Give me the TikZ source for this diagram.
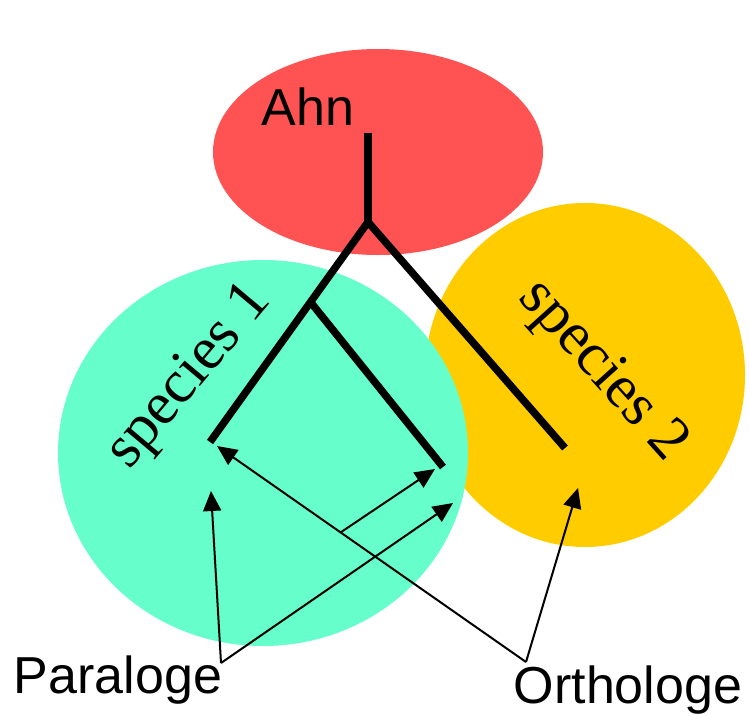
\documentclass[tikz,border=0pt]{standalone}
\usepackage{fontspec}
\setmainfont{Liberation Sans}
\newfontfamily\speciesfont{Liberation Serif}
\usetikzlibrary{
  shapes.geometric,
  arrows.meta,
  calc
}
\definecolor{ancred}{HTML}{FF5353}
\definecolor{spgreen}{HTML}{66FFCC}
\definecolor{spyellow}{HTML}{FFCC00}

\begin{document}
\begin{tikzpicture}[
    x=1pt, y=-1pt,
    blob/.style={ellipse, inner sep=0pt, draw=none},
    bigtext/.style={font=\fontsize{52pt}{60pt}\selectfont, inner sep=0pt, anchor=base},
    sptext/.style={font=\speciesfont\fontsize{61pt}{68pt}\selectfont, inner sep=0pt, anchor=base},
    branch/.style={line width=7.5pt, line cap=butt, line join=miter},
    pointer/.style={-{Triangle[length=20pt, width=18pt]}, line width=2pt},
  ]
  \useasboundingbox (0,0) rectangle (749,715);

  % --- Areas ---
  \node[blob, fill=ancred, minimum width=330pt, minimum height=206pt] (anc) at (378,152) {};
  \node[blob, fill=spyellow, minimum width=320pt, minimum height=344pt] (sp2) at (585,375) {};
  \node[blob, fill=spgreen, minimum width=410pt, minimum height=386pt] (sp1) at (263,453) {};

  % --- Labels ---
  \node[bigtext] (ahn) at (308,125) {Ahn};
  \node[sptext, rotate=50] (sp1label) at (201,386) {species 1};
  \node[sptext, rotate=-48] (sp2label) at (592,381) {species 2};
  \node[bigtext] (para) at (118,693) {Paraloge};
  \node[bigtext] (ortho) at (628,703) {Orthologe};

  % --- Tree ---
  \coordinate (root) at (368,133);
  \coordinate (fork) at (368,222);
  \coordinate (dup) at (310.5,302);
  \coordinate (leafa) at (210,442);
  \coordinate (leafb) at (443,467);
  \coordinate (leafc) at (565,448);

  \draw[branch] (root) -- (fork);
  \draw[branch] (fork) -- (leafa);
  \draw[branch] (fork) -- (leafc);
  \draw[branch] (dup) -- (leafb);

  % --- Pointers ---
  \coordinate (paratop) at (221,663);
  \coordinate (orthotop) at (526,662);
  \coordinate (tipa) at (217,446);
  \coordinate (tipb) at (435,469);
  \coordinate (tipc) at (578,488);
  \coordinate (tipap) at (211,491);
  \coordinate (tipbp) at (453,503);
  \coordinate (split) at ($(orthotop)!0.6!(tipa)$);

  \draw[pointer] (paratop) -- (tipap);
  \draw[pointer] (paratop) -- (tipbp);
  \draw[pointer] (orthotop) -- (tipa);
  \draw[pointer] (orthotop) -- (tipc);
  \draw[pointer] (split) -- (tipb);

\end{tikzpicture}
\end{document}
